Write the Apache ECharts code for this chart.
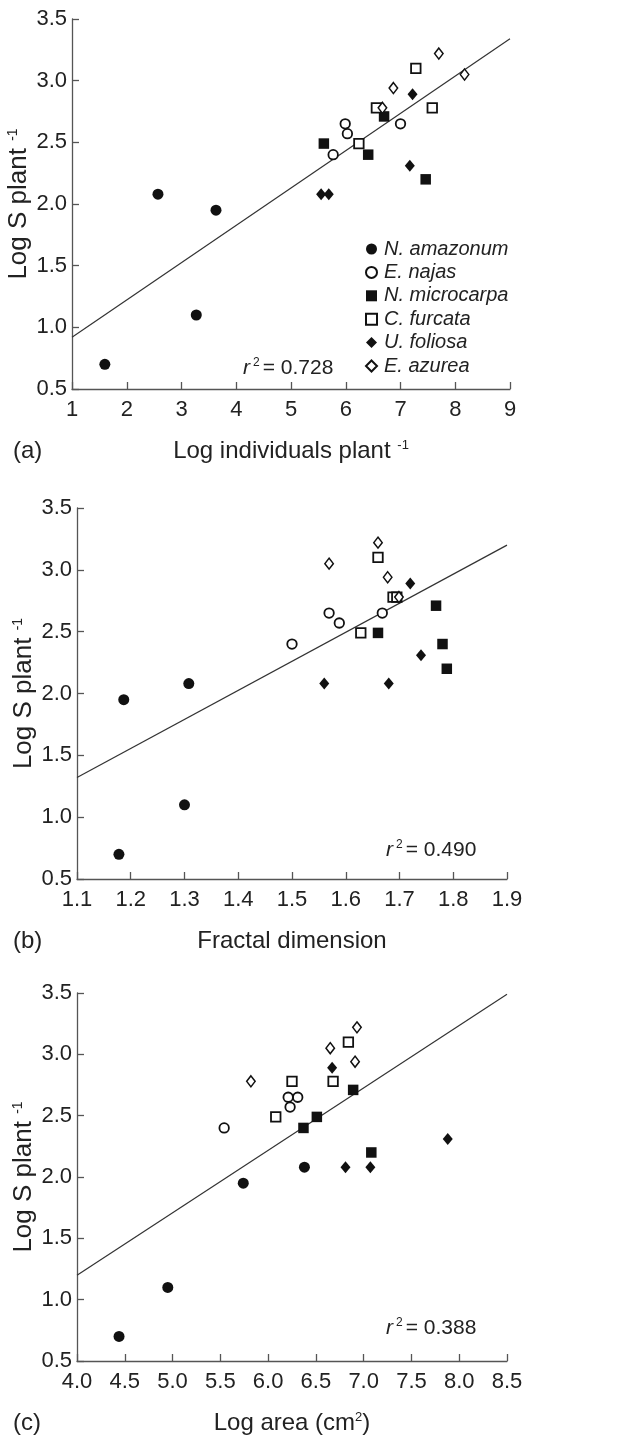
<!DOCTYPE html>
<html>
<head>
<meta charset="utf-8">
<script src="https://cdn.jsdelivr.net/npm/echarts@6/dist/echarts.min.js"></script>
<style>
html,body{margin:0;padding:0;background:#fff;}
#chart{width:640px;height:1437px;}
</style>
</head>
<body>
<div id="chart"></div>
<script>
// ---- data ----
const species = ['N. amazonum', 'E. najas', 'N. microcarpa', 'C. furcata', 'U. foliosa', 'E. azurea'];

// Log S plant^-1 (shared by all three panels)
const amazonumS   = [0.70, 1.10, 1.95, 2.08];
const najasS      = [2.40, 2.65, 2.57, 2.65];
const microcarpaS = [2.49, 2.40, 2.71, 2.20];
const furcataS    = [2.49, 2.78, 3.10, 2.78];
const foliosaS    = [2.08, 2.08, 2.31, 2.89];
const azureaS     = [2.78, 2.94, 3.22, 3.05];

// (a) Log individuals plant^-1
const amazonumInd   = [1.60, 3.27, 3.63, 2.57];
const najasInd      = [5.77, 7.00, 6.03, 5.99];
const microcarpaInd = [5.60, 6.41, 6.70, 7.46];
const furcataInd    = [6.24, 6.56, 7.28, 7.58];
const foliosaInd    = [5.55, 5.69, 7.17, 7.22];
const azureaInd     = [6.67, 6.87, 7.70, 8.17];

// (b) Fractal dimension
const amazonumFD   = [1.178, 1.300, 1.187, 1.308];
const najasFD      = [1.500, 1.668, 1.588, 1.569];
const microcarpaFD = [1.660, 1.780, 1.768, 1.788];
const furcataFD    = [1.628, 1.688, 1.660, 1.695];
const foliosaFD    = [1.560, 1.680, 1.740, 1.720];
const azureaFD     = [1.699, 1.678, 1.660, 1.569];

// (c) Log area (cm2)
const amazonumArea   = [4.44, 4.95, 5.74, 6.38];
const najasArea      = [5.54, 6.31, 6.23, 6.21];
const microcarpaArea = [6.51, 6.37, 6.89, 7.08];
const furcataArea    = [6.08, 6.25, 6.84, 6.68];
const foliosaArea    = [6.81, 7.07, 7.88, 6.67];
const azureaArea     = [5.82, 6.91, 6.93, 6.65];

// regression lines (end points)
const fitA = [[1, 0.92], [9, 3.34]];
const fitB = [[1.1, 1.32], [1.9, 3.20]];
const fitC = [[4.0, 1.20], [8.5, 3.49]];

const r2Labels = ['0.728', '0.490', '0.388'];
const panelLetters = ['(a)', '(b)', '(c)'];

// ---- chart ----
const FONT = "'Liberation Sans', Arial, sans-serif";
const TXT = '#222';
const AX = '#555';

const sVals = [amazonumS, najasS, microcarpaS, furcataS, foliosaS, azureaS];
const xVals = [
  [amazonumInd, najasInd, microcarpaInd, furcataInd, foliosaInd, azureaInd],
  [amazonumFD, najasFD, microcarpaFD, furcataFD, foliosaFD, azureaFD],
  [amazonumArea, najasArea, microcarpaArea, furcataArea, foliosaArea, azureaArea]
];
const fits = [fitA, fitB, fitC];

const styles = [
  {symbol: 'circle', size: 11, fill: '#111', border: '#111', bw: 0},
  {symbol: 'circle', size: 9.5, fill: '#fff', border: '#111', bw: 1.8},
  {symbol: 'rect', size: 10.5, fill: '#111', border: '#111', bw: 0},
  {symbol: 'rect', size: 9.5, fill: '#fff', border: '#111', bw: 1.8},
  {symbol: 'diamond', size: [10, 12], fill: '#111', border: '#111', bw: 0},
  {symbol: 'diamond', size: [8.5, 11], fill: '#fff', border: '#111', bw: 1.5}
];

const grids = [
  {left: 72, top: 19, width: 438, height: 370, outerBoundsMode: 'none', containLabel: false},
  {left: 77, top: 508, width: 430, height: 371, outerBoundsMode: 'none', containLabel: false},
  {left: 77, top: 993, width: 430, height: 368, outerBoundsMode: 'none', containLabel: false}
];

const xRanges = [
  {min: 1, max: 9, interval: 1, dec: 0},
  {min: 1.1, max: 1.9, interval: 0.1, dec: 1},
  {min: 4, max: 8.5, interval: 0.5, dec: 1}
];
const xNames = [
  '{t|Log individuals plant }{sup|-1}',
  '{t|Fractal dimension}',
  '{t|Log area (cm}{sup|2}{t|)}'
];

const richX = {
  t: {fontSize: 24, fontFamily: FONT, color: TXT},
  sup: {fontSize: 13, fontFamily: FONT, color: TXT, padding: [0, 0, 11, 0]}
};
const richY = {
  t: {fontSize: 26, fontFamily: FONT, color: TXT},
  sup: {fontSize: 14, fontFamily: FONT, color: TXT, padding: [0, 0, 12, 0]}
};

const axisCommon = {
  axisLine: {show: true, lineStyle: {color: AX, width: 1.3}},
  axisTick: {show: true, inside: true, length: 7, lineStyle: {color: AX, width: 1.3}},
  splitLine: {show: false}
};

const xAxes = xRanges.map((r, i) => Object.assign({
  type: 'value', gridIndex: i, min: r.min, max: r.max, interval: r.interval,
  axisLabel: {fontSize: 22, fontFamily: FONT, color: TXT, margin: 10,
    formatter: v => v.toFixed(r.dec)},
  name: xNames[i], nameLocation: 'middle', nameGap: 50, nameMoveOverlap: false,
  nameTextStyle: {rich: richX}
}, axisCommon));

const yAxes = [0, 1, 2].map(i => Object.assign({
  type: 'value', gridIndex: i, min: 0.5, max: 3.5, interval: 0.5,
  axisLabel: {fontSize: 22, fontFamily: FONT, color: TXT, margin: 5,
    formatter: v => v.toFixed(1)},
  name: '{t|Log S plant }{sup|-1}', nameLocation: 'middle', nameGap: 40,
  nameMoveOverlap: false, nameRotate: 90,
  nameTextStyle: {rich: richY}
}, axisCommon));

const series = [];
for (let p = 0; p < 3; p++) {
  series.push({
    type: 'line', xAxisIndex: p, yAxisIndex: p, data: fits[p],
    symbol: 'none', silent: true, z: 1,
    lineStyle: {color: '#333', width: 1.2}
  });
  species.forEach((name, k) => {
    const st = styles[k];
    series.push({
      name: name, type: 'scatter', xAxisIndex: p, yAxisIndex: p,
      data: xVals[p][k].map((x, j) => [x, sVals[k][j]]),
      symbol: st.symbol, symbolSize: st.size, z: 3,
      itemStyle: {color: st.fill, borderColor: st.border, borderWidth: st.bw, opacity: 1}
    });
  });
}

const r2Pos = [
  {left: 243, top: 357},
  {left: 386, top: 839},
  {left: 386, top: 1317}
];
const graphics = [];
r2Labels.forEach((v, i) => {
  graphics.push({
    type: 'text', left: r2Pos[i].left, top: r2Pos[i].top,
    style: {
      text: '{i|r}{s|2}{n|= ' + v + '}',
      rich: {
        i: {fontSize: 21, fontStyle: 'italic', fontFamily: FONT, fill: TXT},
        s: {fontSize: 12, fontFamily: FONT, fill: TXT, padding: [0, 3, 10, 3]},
        n: {fontSize: 21, fontFamily: FONT, fill: TXT}
      }
    }
  });
});
const letterTops = [439, 929, 1411];
panelLetters.forEach((t, i) => {
  graphics.push({
    type: 'text', left: 13, top: letterTops[i],
    style: {text: t, fontSize: 24, fontFamily: FONT, fill: TXT}
  });
});

const chart = echarts.init(document.getElementById('chart'), null, {renderer: 'canvas'});
chart.setOption({
  backgroundColor: '#fff',
  animation: false,
  grid: grids,
  xAxis: xAxes,
  yAxis: yAxes,
  legend: {
    data: species, orient: 'vertical', left: 360, top: 233,
    itemWidth: 11, itemHeight: 11, itemGap: 1.4, itemStyle: {},
    selectedMode: false,
    textStyle: {fontSize: 20, fontStyle: 'italic', fontFamily: FONT, color: TXT, lineHeight: 22, padding: [0, 0, 0, 2]}
  },
  series: series,
  graphic: graphics
});
</script>
</body>
</html>
